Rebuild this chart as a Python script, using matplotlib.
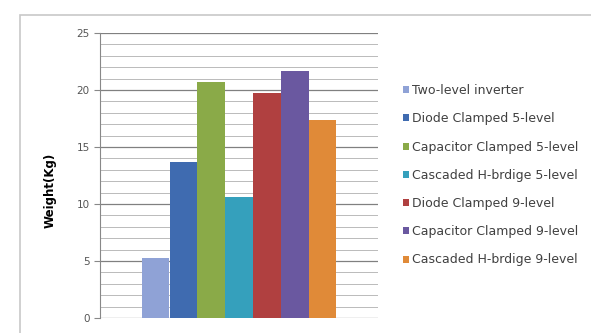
import matplotlib.pyplot as plt
from matplotlib.patches import Rectangle
import numpy as np

# data
inverters = ['Two-level inverter', 'Diode Clamped 5-level', 'Capacitor Clamped 5-level',
             'Cascaded H-brdige 5-level', 'Diode Clamped 9-level', 'Capacitor Clamped 9-level',
             'Cascaded H-brdige 9-level']
weights = [5.3, 13.7, 20.7, 10.6, 19.7, 21.7, 17.4]
colors = ['#8fa2d6', '#3f6bb0', '#8aaa48', '#35a0bc', '#b04040', '#6a58a0', '#e08a38']
y_ticks = [0, 5, 10, 15, 20, 25]

plt.rcParams['font.family'] = ['DejaVu Sans']

fig = plt.figure(figsize=(5.91, 3.33), dpi=100)

# outer chart border (cut off at right and bottom)
fig.patches.append(Rectangle((20 / 591, -0.1), 1.0, 1 - 15 / 333 + 0.1,
                             transform=fig.transFigure, fill=False,
                             edgecolor='#c8c8c8', linewidth=1.2))

ax = fig.add_axes([100 / 591, 15 / 333, 278 / 591, 285 / 333])

n = len(weights)
bw = 0.7 / n
xs = -0.35 + bw / 2 + bw * np.arange(n)
for x, w, c, lab in zip(xs, weights, colors, inverters):
    ax.bar(x, w, width=bw, color=c, label=lab, zorder=3)

ax.set_xlim(-0.5, 0.5)
ax.set_ylim(0, 25)
ax.set_yticks(y_ticks)
ax.set_yticks(np.arange(0, 26, 1), minor=True)
ax.set_xticks([])
ax.grid(axis='y', which='major', color='#808080', linewidth=0.9, zorder=0)
ax.grid(axis='y', which='minor', color='#b0b0b0', linewidth=0.6, zorder=0)
ax.tick_params(axis='y', which='major', labelsize=7.5, labelcolor='#555555',
               color='#888888', length=4)
ax.tick_params(axis='y', which='minor', length=0)
for s in ['top', 'right', 'bottom']:
    ax.spines[s].set_visible(False)
ax.spines['left'].set_color('#888888')
ax.set_ylabel('Weight(Kg)', fontsize=8.5, fontweight='bold')
ax.yaxis.set_label_coords(-0.155, 0.449)

ax.legend(loc='upper left', bbox_to_anchor=(398 / 591, 1 - 79 / 333),
          bbox_transform=fig.transFigure, frameon=False, fontsize=9,
          handlelength=0.5, handleheight=0.5, handletextpad=0.2,
          labelspacing=1.22, borderaxespad=0, labelcolor='#404040')

fig.savefig('out.png', dpi=100)
